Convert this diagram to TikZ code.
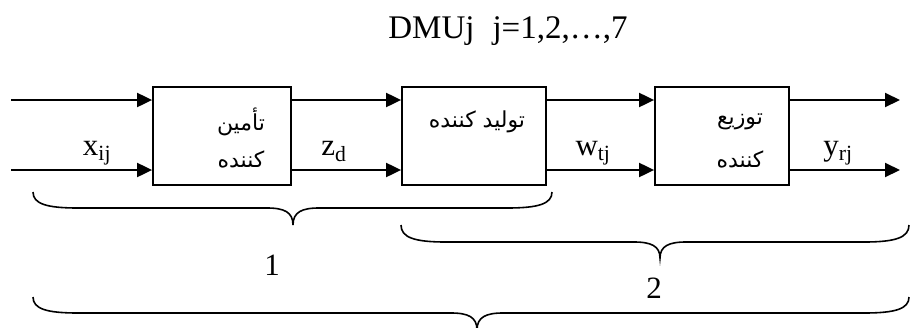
\documentclass[tikz,border=0pt]{standalone}
\usepackage{fontspec}
\setmainfont{Liberation Serif}
\newfontfamily\fafont[Script=Arabic]{DejaVu Sans}
\TeXXeTstate=1
\usetikzlibrary{arrows.meta}
% #1 left x, #2 right x, #3 tip x, #4 end y, #5 line y, #6 tip y
\newcommand{\curlybrace}[6]{%
  \draw[brc] (#1,#4) .. controls (#1,{#4+0.75*(#5-#4)}) and ({#1+14},#5) .. ({#1+45},#5)
    -- ({#3-26},#5) .. controls ({#3-9},#5) and (#3,{#5+4}) .. (#3,#6)
    .. controls (#3,{#5+4}) and ({#3+9},#5) .. ({#3+26},#5)
    -- ({#2-45},#5) .. controls ({#2-14},#5) and (#2,{#4+0.75*(#5-#4)}) .. (#2,#4);}
\begin{document}
\begin{tikzpicture}[x=1pt,y=-1pt,
  box/.style={draw,line width=1.8pt,inner sep=0pt,minimum height=98pt},
  arr/.style={line width=2pt,-{Triangle[length=15pt,width=14pt]}},
  brc/.style={line width=1.6pt},
  lbl/.style={font=\fontsize{31}{36}\selectfont,anchor=base,inner sep=0pt},
  fa/.style={font=\fontsize{22}{26}\selectfont\fafont,inner sep=0pt}]
\useasboundingbox (0,0) rectangle (912,327);
% title
\node[lbl,font=\fontsize{33}{38}\selectfont] (title) at (508,38) {DMUj\hspace{18pt}j=1,2,\ldots,7};
% boxes
\node[box,minimum width=138pt] (b1) at (222,136) {};
\node[box,minimum width=144pt] (b2) at (474,136) {};
\node[box,minimum width=134pt] (b3) at (722,136) {};
% box texts
\node[fa] (t1a) at (241,122) {\beginR تأمین\endR};
\node[fa] (t1b) at (241,159) {\beginR کننده\endR};
\node[fa] (t2)  at (477,122) {\beginR تولید کننده\endR};
\node[fa] (t3a) at (740,122) {\beginR توزیع\endR};
\node[fa] (t3b) at (740,159) {\beginR کننده\endR};
% free ends
\coordinate (i1) at (11,100);
\coordinate (i2) at (11,170);
\coordinate (o1) at (900,100);
\coordinate (o2) at (900,170);
% arrows
\draw[arr] (i1) -- (i1 -| b1.west);
\draw[arr] (i2) -- (i2 -| b1.west);
\draw[arr] (b1.east |- i1) -- (b2.west |- i1);
\draw[arr] (b1.east |- i2) -- (b2.west |- i2);
\draw[arr] (b2.east |- i1) -- (b3.west |- i1);
\draw[arr] (b2.east |- i2) -- (b3.west |- i2);
\draw[arr] (b3.east |- o1) -- (o1);
\draw[arr] (b3.east |- o2) -- (o2);
% flow labels
\node[lbl] (lx) at (97,155) {x\textsubscript{ij}};
\node[lbl] (lz) at (334,155) {z\textsubscript{d}};
\node[lbl] (lw) at (593,155) {w\textsubscript{tj}};
\node[lbl] (ly) at (838,155) {y\textsubscript{rj}};
% braces
\curlybrace{33}{552}{293}{192}{208}{225}
\curlybrace{401}{909}{660}{225}{242}{258}
\curlybrace{33}{909}{477}{297}{313}{330}
\node[lbl] (n1) at (272,275) {1};
\node[lbl] (n2) at (654,298) {2};
\end{tikzpicture}
\end{document}
